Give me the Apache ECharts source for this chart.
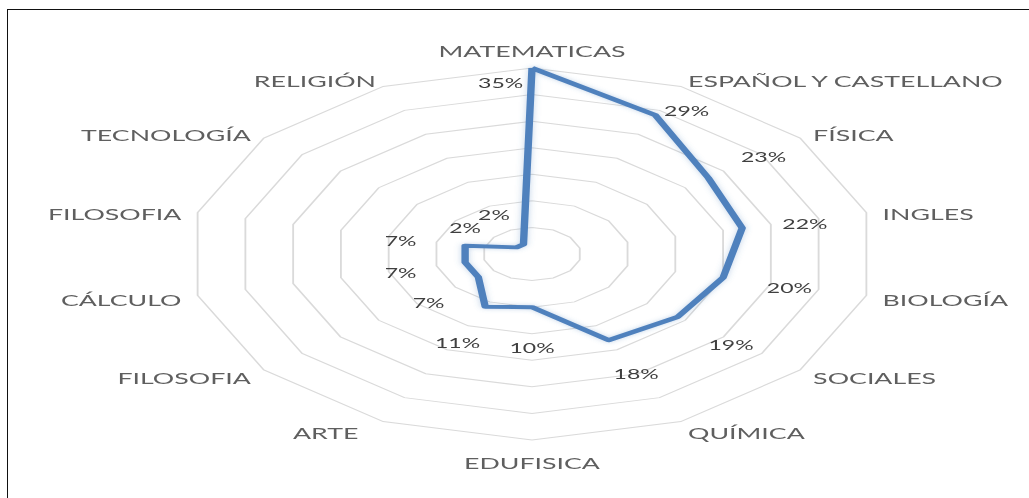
<!DOCTYPE html>
<html>
<head>
    <meta charset="utf-8">
    <title>Materias</title>
    <script src="https://cdn.jsdelivr.net/npm/echarts@6.0.0/dist/echarts.min.js"></script>
    <style>
        html, body { margin: 0; padding: 0; background: #fff; }
        #wrap { position: relative; width: 1029px; height: 498px; overflow: hidden; }
        #frame {
            position: absolute; left: 7px; top: 9px; right: 0; bottom: 0;
            border-top: 1px solid #111; border-left: 1px solid #111;
        }
        /* the original picture is stretched sideways, so the chart is too */
        #main {
            position: absolute; left: 0; top: 0; width: 558px; height: 498px;
            transform: scaleX(1.844); transform-origin: 0 0;
        }
    </style>
</head>
<body>
<div id="wrap">
    <div id="frame"></div>
    <div id="main"></div>
</div>
<script>
    // clockwise from the top, as in the picture
    var subjects = ['MATEMATICAS', 'ESPAÑOL Y CASTELLANO', 'FÍSICA', 'INGLES', 'BIOLOGÍA', 'SOCIALES', 'QUÍMICA',
        'EDUFISICA', 'ARTE', 'FILOSOFIA', 'CÁLCULO', 'FILOSOFIA', 'TECNOLOGÍA', 'RELIGIÓN'];
    var percents = [35, 29, 23, 22, 20, 19, 18, 10, 11, 7, 7, 7, 2, 2];
    var axisMax = 35;
    var ringCount = 7;

    // where each percent label sits relative to its point (px, unscaled chart space)
    var labelOffsets = [[-17, 15], [17, -4], [30, -21], [34, -4], [36, 11], [29, 28], [15, 34],
        [0, 41], [-15, 37], [-27, 26], [-35, 11], [-35, -4], [-28, -19], [-16, -29]];

    // echarts puts radar axes counter-clockwise, the picture goes clockwise
    function ccw(arr) {
        return [arr[0]].concat(arr.slice(1).reverse());
    }
    function ccwPos(i, n) {
        return i === 0 ? 0 : n - i;
    }

    var n = subjects.length;
    var indicators = ccw(subjects).map(function (name) {
        return {name: name, min: 0, max: axisMax};
    });

    var labelItems = [];
    for (var i = 0; i < n; i++) {
        var v = [];
        for (var j = 0; j < n; j++) v.push('-');
        v[ccwPos(i, n)] = percents[i];
        labelItems.push({value: v, label: {offset: labelOffsets[i]}});
    }

    var myChart = echarts.init(document.getElementById('main'), null, {renderer: 'svg'});
    var option = {
        animation: false,
        backgroundColor: 'transparent',
        radar: {
            center: [288.5, 254],
            radius: 186,
            startAngle: 90,
            splitNumber: ringCount,
            shape: 'polygon',
            indicator: indicators,
            nameGap: 9,
            axisName: {
                color: '#5f5f5f',
                fontFamily: 'Lato',
                fontSize: 14.5,
                padding: [7, 0, 0, 0],
                // ARTE sits a bit further out in the original
                formatter: function (name) {
                    return name === 'ARTE' ? '{wide|' + name + '}' : name;
                },
                rich: {
                    wide: {color: '#5f5f5f', fontFamily: 'Lato', fontSize: 14.5, width: 45, align: 'left'}
                }
            },
            axisLine: {show: false},
            axisTick: {show: false},
            axisLabel: {show: false},
            splitLine: {lineStyle: {color: '#dadada', width: 1}},
            splitArea: {show: false}
        },
        series: [
            {
                type: 'radar',
                symbol: 'none',
                silent: true,
                lineStyle: {color: '#4f81bd', width: 4, shadowBlur: 4, shadowColor: 'rgba(79,129,189,0.35)'},
                data: [{value: ccw(percents)}]
            },
            {
                type: 'radar',
                silent: true,
                symbol: 'circle',
                symbolSize: 1,
                itemStyle: {color: 'rgba(0,0,0,0)'},
                lineStyle: {opacity: 0, width: 0},
                label: {
                    show: true,
                    position: 'inside',
                    color: '#404040',
                    fontFamily: 'Lato',
                    fontSize: 12.5,
                    formatter: function (p) {
                        return typeof p.value === 'number' ? p.value + '%' : '';
                    }
                },
                data: labelItems
            }
        ]
    };
    myChart.setOption(option);
</script>
</body>
</html>
